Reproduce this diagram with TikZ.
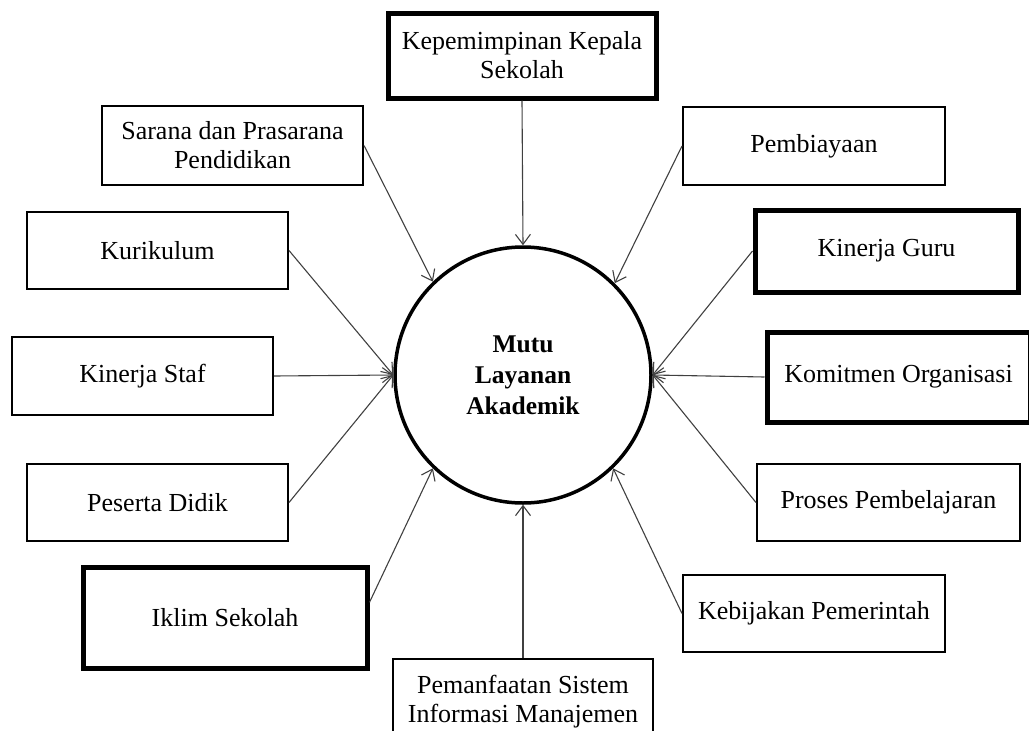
\documentclass[tikz,border=0pt]{standalone}
\usepackage{fontspec}
\setmainfont{Liberation Serif}
\usetikzlibrary{arrows.meta}

\begin{document}
\begin{tikzpicture}[x=1pt,y=-1pt,
    kotak/.style={draw,line width=2pt,align=center,inner sep=0pt,
      font=\fontsize{26}{29}\selectfont},
    tebal/.style={kotak,line width=5pt},
    panah/.style={-{Straight Barb[length=10pt,width=15pt]},line width=1.1pt,black!75}]
  \useasboundingbox (0,0) rectangle (1029,731);
  % lingkaran tengah
  \node[circle,draw,line width=3.5pt,minimum size=256pt,align=center,
    font=\fontsize{25.5}{31}\selectfont\bfseries] (mutu) at (523,375) {Mutu\\Layanan\\Akademik};
  % faktor-faktor
  \node[tebal,minimum width=268pt,minimum height=85pt] (kep) at (522,55.5) {Kepemimpinan Kepala\\Sekolah};
  \node[kotak,minimum width=261pt,minimum height=79pt] (sarana) at (232.5,145.5) {Sarana dan Prasarana\\Pendidikan};
  \node[kotak,minimum width=262pt,minimum height=78pt] (biaya) at (814,146) {Pembiayaan};
  \node[kotak,minimum width=261pt,minimum height=77pt] (kuri) at (157.5,250.5) {Kurikulum};
  \node[tebal,minimum width=263pt,minimum height=82pt] (guru) at (886.5,251) {Kinerja Guru};
  \node[kotak,minimum width=261pt,minimum height=78pt] (staf) at (142.5,376) {Kinerja Staf};
  \node[tebal,minimum width=263pt,minimum height=90pt] (komit) at (898.5,377) {Komitmen Organisasi};
  \node[kotak,minimum width=261pt,minimum height=77pt] (didik) at (157.5,502.5) {Peserta Didik};
  \node[kotak,minimum width=263pt,minimum height=77pt] (proses) at (888.5,502.5) {Proses Pembelajaran};
  \node[tebal,minimum width=284pt,minimum height=101pt] (iklim) at (225,617.5) {Iklim Sekolah};
  \node[kotak,minimum width=262pt,minimum height=77pt] (bijak) at (814,613.5) {Kebijakan Pemerintah};
  \node[kotak,minimum width=260pt,minimum height=86pt] (sim) at (523,702) {Pemanfaatan Sistem\\Informasi Manajemen};
  % panah
  \draw[panah] (kep.south) -- (mutu.90);
  \draw[panah] (sarana.east) -- (mutu.134);
  \draw[panah] (biaya.west) -- (mutu.45);
  \draw[panah] (kuri.east) -- (mutu.180);
  \draw[panah] (staf.east) -- (mutu.180);
  \draw[panah] (didik.east) -- (mutu.180);
  \draw[panah] (guru.west) -- (mutu.0);
  \draw[panah] (komit.west) -- (mutu.0);
  \draw[panah] (proses.west) -- (mutu.0);
  \draw[panah] (iklim.6) -- (mutu.226);
  \draw[panah] (bijak.west) -- (mutu.314);
  \draw[panah] (sim.north) -- (mutu.270);
\end{tikzpicture}
\end{document}
